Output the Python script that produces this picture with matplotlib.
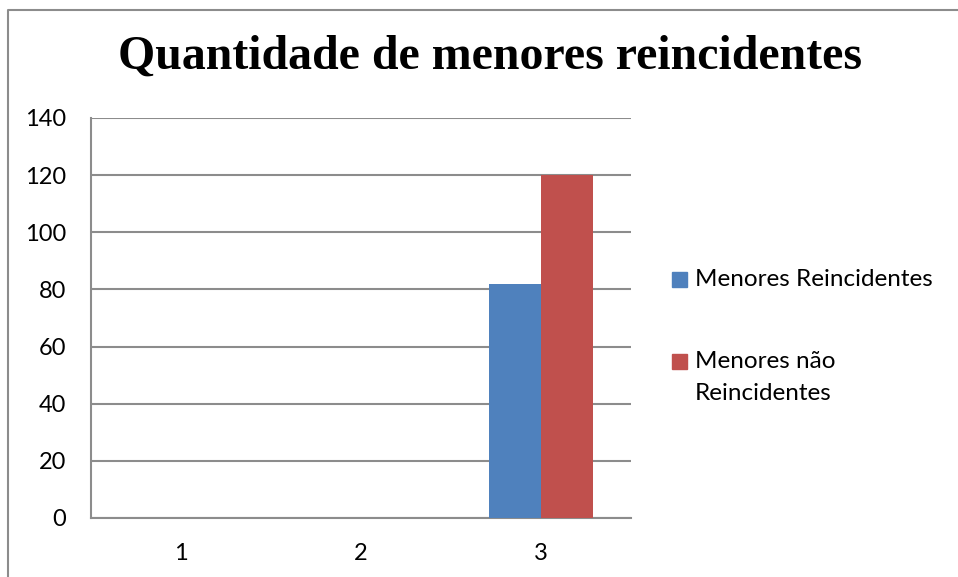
import numpy as np
import matplotlib.pyplot as plt
from matplotlib.patches import Rectangle
from matplotlib.lines import Line2D

categories = ['1', '2', '3']
reincidentes = [0, 0, 82]
nao_reincidentes = [0, 0, 120]
series_names = ['Menores Reincidentes', 'Menores não\nReincidentes']
colors = ['#4F81BD', '#C0504D']
yticks = [0, 20, 40, 60, 80, 100, 120, 140]

W, H = 958, 577
fig = plt.figure(figsize=(W / 100, H / 100), dpi=100)
ax = fig.add_axes([91 / W, 1 - 518 / H, (631 - 91) / W, 400 / H])

x = np.arange(len(categories))
w = 0.29
ax.bar(x - w / 2, reincidentes, w, color=colors[0], zorder=3)
ax.bar(x + w / 2, nao_reincidentes, w, color=colors[1], zorder=3)

ax.set_xlim(-0.5, len(categories) - 0.5)
ax.set_ylim(0, 140)
ax.set_yticks(yticks)
ax.set_xticks(x)
ax.set_xticklabels(categories)
ax.yaxis.grid(True, color='#8C8C8C', linewidth=1.5, zorder=0)
for s in ['top', 'right']:
    ax.spines[s].set_visible(False)
for s in ['left', 'bottom']:
    ax.spines[s].set_color('#8C8C8C')
    ax.spines[s].set_linewidth(1.5)
ax.tick_params(length=0, labelsize=17)
ax.tick_params(axis='y', pad=18)
ax.tick_params(axis='x', pad=18)
for lab in ax.get_xticklabels() + ax.get_yticklabels():
    lab.set_fontfamily('Lato')

fig.text(490 / W, 1 - 57 / H, 'Quantidade de menores reincidentes',
         ha='center', va='center', fontsize=34.5, fontweight='bold',
         family='Liberation Serif')

# legend drawn by hand, Excel style
legend_y = [280, 362]
for name, col, ly in zip(series_names, colors, legend_y):
    fig.add_artist(Rectangle((672 / W, 1 - (ly + 7) / H), 15 / W, 15 / H,
                             transform=fig.transFigure, color=col))
    for i, line in enumerate(name.split('\n')):
        fig.text(695 / W, 1 - (ly + i * 31) / H, line, ha='left', va='center',
                 fontsize=17.5, family='Lato')

# chart frame
fig.add_artist(Line2D([8 / W, 8 / W, 1], [0, 1 - 10 / H, 1 - 10 / H],
                      transform=fig.transFigure, color='#8C8C8C', linewidth=1.5))

fig.savefig('out.png', dpi=100)
